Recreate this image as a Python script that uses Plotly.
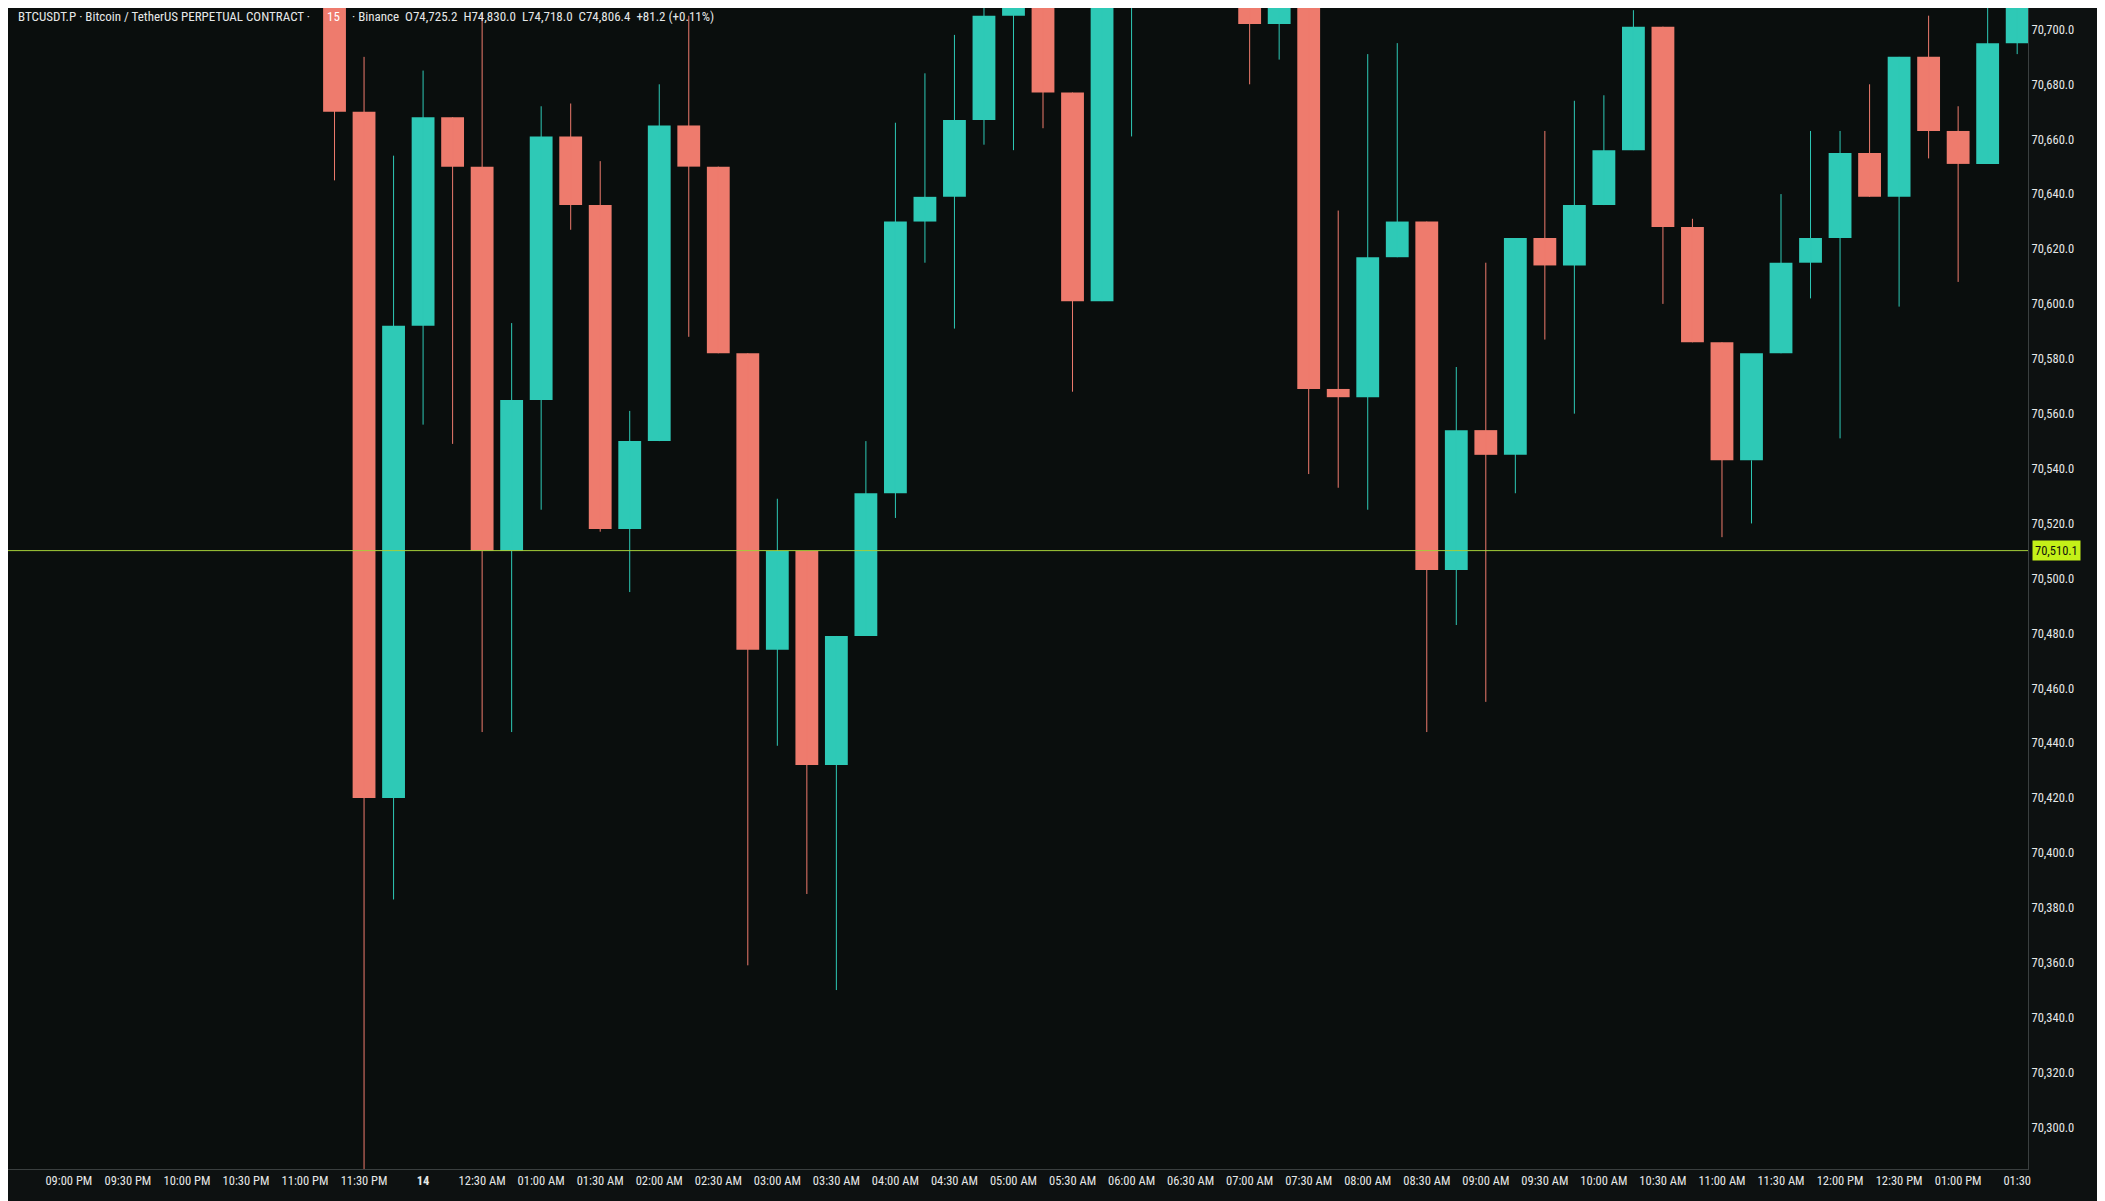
import pandas as pd
import plotly.graph_objects as go

start = "2024-03-13 23:15"
opens  = [70730,70670,70420,70592,70668,70650,70510,70565,70661,70636,70518,70550,70665,70650,70582,70474,70510,70432,70479,70531,
          70630,70639,70667,70705,70722,70677,70601,70728,70745,70760,70740,70735,70702,70725,70569,70566,70617,70630,70503,70554,
          70545,70624,70614,70636,70656,70701,70628,70586,70543,70582,70615,70624,70655,70639,70690,70663,70651,70695]
highs  = [70760,70690,70654,70685,70668,70706,70593,70672,70673,70652,70561,70680,70705,70650,70582,70529,70510,70479,70550,70666,
          70684,70698,70715,70735,70730,70677,70740,70760,70775,70780,70755,70745,70735,70730,70634,70691,70695,70630,70577,70615,
          70624,70663,70674,70676,70707,70701,70631,70586,70543,70640,70663,70663,70680,70690,70705,70672,70715,70730]
lows   = [70645,70280,70383,70556,70549,70444,70444,70525,70627,70517,70495,70550,70588,70582,70359,70439,70385,70350,70479,70522,
          70615,70591,70658,70656,70664,70568,70601,70661,70730,70725,70720,70680,70689,70538,70533,70525,70617,70444,70483,70455,
          70531,70587,70560,70636,70656,70600,70586,70515,70520,70582,70602,70551,70639,70599,70653,70608,70651,70691]
closes = [70670,70420,70592,70668,70650,70510,70565,70661,70636,70518,70550,70665,70650,70582,70474,70510,70432,70479,70531,70630,
          70639,70667,70705,70722,70677,70601,70728,70745,70760,70740,70735,70702,70725,70569,70566,70617,70630,70503,70554,70545,
          70624,70614,70636,70656,70701,70628,70586,70543,70582,70615,70624,70655,70639,70690,70663,70651,70695,70720]
times = pd.date_range(start, periods=len(opens), freq="15min")

price_line = 70510.1
tick_vals = pd.date_range("2024-03-13 20:30", "2024-03-14 13:30", freq="30min")
tick_text = ["<b>14</b>" if t.hour == 0 and t.minute == 0 else t.strftime("%I:%M %p") for t in tick_vals]
tick_text[-1] = "01:30"
y_ticks = list(range(70300, 70701, 20))

GREEN, RED = "#2ec9b6", "#ee7b6d"
FONT = "Liberation Sans Narrow, Arial Narrow, Roboto Condensed, sans-serif"

fig = go.Figure()
for up, col in [(True, GREEN), (False, RED)]:
    idx = [i for i in range(len(opens)) if (closes[i] >= opens[i]) == up]
    wx, wy = [], []
    for i in idx:
        wx += [times[i], times[i], None]
        wy += [lows[i], highs[i], None]
    fig.add_trace(go.Scatter(x=wx, y=wy, mode="lines", line=dict(color=col, width=1),
                             showlegend=False, hoverinfo="skip"))
    fig.add_trace(go.Bar(x=[times[i] for i in idx],
                         base=[min(opens[i], closes[i]) for i in idx],
                         y=[max(abs(closes[i] - opens[i]), 0.8) for i in idx],
                         width=11.6 * 60 * 1000, marker=dict(color=col, line=dict(width=0)),
                         showlegend=False, hoverinfo="skip"))

fig.add_hline(y=price_line, line=dict(color="#a6cf3a", width=1))

fig.update_layout(
    width=2097, height=1193,
    margin=dict(l=0, r=77, t=0, b=32),
    paper_bgcolor="#0d1111", plot_bgcolor="#0a0e0d", barmode="overlay",
    font=dict(family=FONT, color="#d8dcdc", size=12),
    xaxis=dict(type="date",
               range=[pd.Timestamp("2024-03-13 20:29:05"), pd.Timestamp("2024-03-14 13:35:30")],
               tickvals=tick_vals, ticktext=tick_text, showgrid=False, zeroline=False,
               showline=True, linecolor="#3a3f3f", ticks="", tickfont=dict(size=12.5, color="#e6e8e8")),
    yaxis=dict(side="right", range=[70284.8, 70707.8], tickvals=y_ticks,
               ticktext=[f"{v:,.1f}" for v in y_ticks], showgrid=False, zeroline=False,
               showline=True, linecolor="#3a3f3f", ticks="", tickfont=dict(size=12.5, color="#e6e8e8")),
)

fig.add_annotation(xref="paper", yref="y", x=1.002, y=price_line, xanchor="left", yanchor="middle",
                   text=f"{price_line:,.1f}", showarrow=False, bgcolor="#c4f018",
                   font=dict(color="#10140c", size=12.5, family=FONT), borderpad=2)
fig.add_annotation(xref="paper", yref="paper", x=0, y=1, xanchor="left", yanchor="middle", xshift=8, yshift=-8,
                   text="BTCUSDT.P · Bitcoin / TetherUS PERPETUAL CONTRACT ·", showarrow=False,
                   font=dict(size=13, color="#e6e8e8", family=FONT))
fig.add_annotation(xref="paper", yref="paper", x=0, y=1, xanchor="left", yanchor="middle", xshift=316, yshift=-8,
                   text="15", showarrow=False, bgcolor=RED, borderpad=2,
                   font=dict(size=13, color="#ffffff", family=FONT))
fig.add_annotation(xref="paper", yref="paper", x=0, y=1, xanchor="left", yanchor="middle", xshift=342, yshift=-8,
                   text="· Binance  O74,725.2  H74,830.0  L74,718.0  C74,806.4  +81.2 (+0.11%)", showarrow=False,
                   font=dict(size=13, color="#e6e8e8", family=FONT))

fig.write_html("out.html")
